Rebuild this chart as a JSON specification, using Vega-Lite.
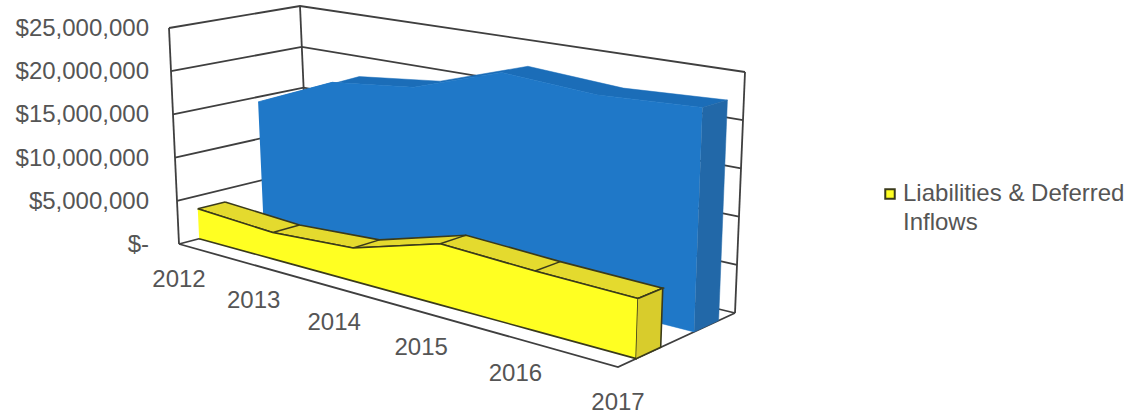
{"$schema":"https://vega.github.io/schema/vega-lite/v6.json","width":1135,"height":415,"padding":0,"autosize":{"type":"fit","contains":"padding"},"background":"white","config":{"view":{"stroke":null},"text":{"font":"Liberation Sans"}},
"datasets":{
"series":[
{"year":2012,"series":"Assets","value":14400000},{"year":2013,"series":"Assets","value":18400000},{"year":2014,"series":"Assets","value":19500000},{"year":2015,"series":"Assets","value":22800000},{"year":2016,"series":"Assets","value":22100000},{"year":2017,"series":"Assets","value":22600000},
{"year":2012,"series":"Liabilities & Deferred Inflows","value":3500000},{"year":2013,"series":"Liabilities & Deferred Inflows","value":3000000},{"year":2014,"series":"Liabilities & Deferred Inflows","value":3600000},{"year":2015,"series":"Liabilities & Deferred Inflows","value":6400000},{"year":2016,"series":"Liabilities & Deferred Inflows","value":6000000},{"year":2017,"series":"Liabilities & Deferred Inflows","value":5800000}],
"ticks":[{"value":0,"label":"$-"},{"value":5000000,"label":"$5,000,000"},{"value":10000000,"label":"$10,000,000"},{"value":15000000,"label":"$15,000,000"},{"value":20000000,"label":"$20,000,000"},{"value":25000000,"label":"$25,000,000"}],
"years":[{"year":2012},{"year":2013},{"year":2014},{"year":2015},{"year":2016},{"year":2017}],
"edges":[
{"edge":"floor","step":0,"year":2012,"value":0,"depth":0},{"edge":"floor","step":1,"year":2017,"value":0,"depth":0},{"edge":"floor","step":2,"year":2017,"value":0,"depth":1},
{"edge":"left front","step":0,"year":2012,"value":0,"depth":0},{"edge":"left front","step":1,"year":2012,"value":25000000,"depth":0},
{"edge":"left back","step":0,"year":2012,"value":0,"depth":1},{"edge":"left back","step":1,"year":2012,"value":25000000,"depth":1},
{"edge":"right back","step":0,"year":2017,"value":0,"depth":1},{"edge":"right back","step":1,"year":2017,"value":25000000,"depth":1}]},
"encoding":{"x":{"field":"px","type":"quantitative","scale":{"domain":[0,1135]},"axis":null},"y":{"field":"py","type":"quantitative","scale":{"domain":[415,0]},"axis":null}},
"layer":[
{"data":{"name":"ticks"},"transform":[{"calculate":"[0,1,2]","as":"i"},{"flatten":["i"]},{"calculate":"datum.i==2?2017:2012","as":"year"},{"calculate":"datum.i==0?0:1","as":"d"},{"calculate":"datum.value/25000000","as":"w"},{"calculate":"(datum.year-2012)/5*0.82/(1-0.18*(datum.year-2012)/5)","as":"s"},{"calculate":"(179+439*datum.s+datum.d*(130-13*datum.s))*(1-datum.w)+(169+457*datum.s+datum.d*(131-12*datum.s))*datum.w","as":"px"},{"calculate":"(244+123*datum.s+datum.d*(-34-20*datum.s))*(1-datum.w)+(28+77*datum.s+datum.d*(-22-11*datum.s))*datum.w","as":"py"}],
"mark":{"type":"line","stroke":"#3f3f3f","strokeWidth":1.8},"encoding":{"detail":{"field":"value"},"order":{"field":"i"}}},
{"data":{"name":"edges"},"transform":[{"calculate":"datum.depth","as":"d"},{"calculate":"datum.value/25000000","as":"w"},{"calculate":"(datum.year-2012)/5*0.82/(1-0.18*(datum.year-2012)/5)","as":"s"},{"calculate":"(179+439*datum.s+datum.d*(130-13*datum.s))*(1-datum.w)+(169+457*datum.s+datum.d*(131-12*datum.s))*datum.w","as":"px"},{"calculate":"(244+123*datum.s+datum.d*(-34-20*datum.s))*(1-datum.w)+(28+77*datum.s+datum.d*(-22-11*datum.s))*datum.w","as":"py"}],
"mark":{"type":"line","stroke":"#3f3f3f","strokeWidth":1.8},"encoding":{"detail":{"field":"edge"},"order":{"field":"step"}}},
{"data":{"name":"series"},"transform":[{"filter":"datum.series=='Assets'"},{"calculate":"[0,1]","as":"i"},{"flatten":["i"]},{"calculate":"datum.i==0?0.65:0.86","as":"d"},{"calculate":"datum.i==0?datum.year:5000-datum.year","as":"ord"},{"calculate":"datum.value/25000000","as":"w"},{"calculate":"(datum.year-2012)/5*0.82/(1-0.18*(datum.year-2012)/5)","as":"s"},{"calculate":"(179+439*datum.s+datum.d*(130-13*datum.s))*(1-datum.w)+(169+457*datum.s+datum.d*(131-12*datum.s))*datum.w","as":"px"},{"calculate":"(244+123*datum.s+datum.d*(-34-20*datum.s))*(1-datum.w)+(28+77*datum.s+datum.d*(-22-11*datum.s))*datum.w","as":"py"}],
"mark":{"type":"line","fill":"#1b6db8","stroke":"#1b6db8","strokeWidth":0.5},"encoding":{"order":{"field":"ord"}}},
{"data":{"name":"series"},"transform":[{"filter":"datum.series=='Assets'"},{"calculate":"[0,1]","as":"i"},{"flatten":["i"]},{"calculate":"0.65","as":"d"},{"calculate":"datum.i==0?datum.year:5000-datum.year","as":"ord"},{"calculate":"datum.i==0?datum.value/25000000:0","as":"w"},{"calculate":"(datum.year-2012)/5*0.82/(1-0.18*(datum.year-2012)/5)","as":"s"},{"calculate":"(179+439*datum.s+datum.d*(130-13*datum.s))*(1-datum.w)+(169+457*datum.s+datum.d*(131-12*datum.s))*datum.w","as":"px"},{"calculate":"(244+123*datum.s+datum.d*(-34-20*datum.s))*(1-datum.w)+(28+77*datum.s+datum.d*(-22-11*datum.s))*datum.w","as":"py"}],
"mark":{"type":"line","fill":"#1f78c8","stroke":"#1f78c8","strokeWidth":0.5},"encoding":{"order":{"field":"ord"}}},
{"data":{"name":"series"},"transform":[{"filter":"datum.series=='Assets' && datum.year==2017"},{"calculate":"[0,1,2,3]","as":"i"},{"flatten":["i"]},{"calculate":"datum.i==0||datum.i==3?0.65:0.86","as":"d"},{"calculate":"datum.i<2?datum.value/25000000:0","as":"w"},{"calculate":"(datum.year-2012)/5*0.82/(1-0.18*(datum.year-2012)/5)","as":"s"},{"calculate":"(179+439*datum.s+datum.d*(130-13*datum.s))*(1-datum.w)+(169+457*datum.s+datum.d*(131-12*datum.s))*datum.w","as":"px"},{"calculate":"(244+123*datum.s+datum.d*(-34-20*datum.s))*(1-datum.w)+(28+77*datum.s+datum.d*(-22-11*datum.s))*datum.w","as":"py"}],
"mark":{"type":"line","fill":"#2268a8","stroke":"#2268a8","strokeWidth":0.5},"encoding":{"order":{"field":"i"}}},
{"data":{"name":"series"},"transform":[{"filter":"datum.series!='Assets'"},{"calculate":"[0,1]","as":"i"},{"flatten":["i"]},{"calculate":"datum.i==0?0.155:0.365","as":"d"},{"calculate":"datum.i==0?datum.year:5000-datum.year","as":"ord"},{"calculate":"datum.value/25000000","as":"w"},{"calculate":"(datum.year-2012)/5*0.82/(1-0.18*(datum.year-2012)/5)","as":"s"},{"calculate":"(179+439*datum.s+datum.d*(130-13*datum.s))*(1-datum.w)+(169+457*datum.s+datum.d*(131-12*datum.s))*datum.w","as":"px"},{"calculate":"(244+123*datum.s+datum.d*(-34-20*datum.s))*(1-datum.w)+(28+77*datum.s+datum.d*(-22-11*datum.s))*datum.w","as":"py"}],
"mark":{"type":"line","fill":"#e4da2e","stroke":"#3a3a1a","strokeWidth":1.6},"encoding":{"order":{"field":"ord"}}},
{"data":{"name":"series"},"transform":[{"filter":"datum.series!='Assets'"},{"calculate":"[0,1]","as":"i"},{"flatten":["i"]},{"calculate":"datum.i==0?0.155:0.365","as":"d"},{"calculate":"datum.value/25000000","as":"w"},{"calculate":"(datum.year-2012)/5*0.82/(1-0.18*(datum.year-2012)/5)","as":"s"},{"calculate":"(179+439*datum.s+datum.d*(130-13*datum.s))*(1-datum.w)+(169+457*datum.s+datum.d*(131-12*datum.s))*datum.w","as":"px"},{"calculate":"(244+123*datum.s+datum.d*(-34-20*datum.s))*(1-datum.w)+(28+77*datum.s+datum.d*(-22-11*datum.s))*datum.w","as":"py"}],
"mark":{"type":"line","stroke":"#3a3a1a","strokeWidth":1.4},"encoding":{"detail":{"field":"year"},"order":{"field":"i"}}},
{"data":{"name":"series"},"transform":[{"filter":"datum.series!='Assets'"},{"calculate":"[0,1]","as":"i"},{"flatten":["i"]},{"calculate":"0.155","as":"d"},{"calculate":"datum.i==0?datum.year:5000-datum.year","as":"ord"},{"calculate":"datum.i==0?datum.value/25000000:0","as":"w"},{"calculate":"(datum.year-2012)/5*0.82/(1-0.18*(datum.year-2012)/5)","as":"s"},{"calculate":"(179+439*datum.s+datum.d*(130-13*datum.s))*(1-datum.w)+(169+457*datum.s+datum.d*(131-12*datum.s))*datum.w","as":"px"},{"calculate":"(244+123*datum.s+datum.d*(-34-20*datum.s))*(1-datum.w)+(28+77*datum.s+datum.d*(-22-11*datum.s))*datum.w","as":"py"}],
"mark":{"type":"line","stroke":"#3a3a1a","strokeWidth":1.6},"encoding":{"order":{"field":"ord"},"fill":{"field":"series","type":"nominal","scale":{"domain":["Liabilities & Deferred Inflows"],"range":["#ffff22"]},"legend":{"orient":"none","legendX":878,"legendY":182,"title":null,"symbolType":"square","symbolSize":90,"symbolStrokeColor":"#3a3a1a","symbolStrokeWidth":2,"symbolFillColor":"#ffff22","labelFont":"Liberation Sans","labelFontSize":24,"labelColor":"#555555","labelLimit":300,"labelOffset":1,"labelExpr":"['Liabilities & Deferred','Inflows']","encode":{"labels":{"update":{"lineHeight":{"value":29}}}}}}}},
{"data":{"name":"series"},"transform":[{"filter":"datum.series!='Assets' && datum.year==2017"},{"calculate":"[0,1,2,3]","as":"i"},{"flatten":["i"]},{"calculate":"datum.i==0||datum.i==3?0.155:0.365","as":"d"},{"calculate":"datum.i<2?datum.value/25000000:0","as":"w"},{"calculate":"(datum.year-2012)/5*0.82/(1-0.18*(datum.year-2012)/5)","as":"s"},{"calculate":"(179+439*datum.s+datum.d*(130-13*datum.s))*(1-datum.w)+(169+457*datum.s+datum.d*(131-12*datum.s))*datum.w","as":"px"},{"calculate":"(244+123*datum.s+datum.d*(-34-20*datum.s))*(1-datum.w)+(28+77*datum.s+datum.d*(-22-11*datum.s))*datum.w","as":"py"}],
"mark":{"type":"line","fill":"#d8cc2c","stroke":"#3a3a1a","strokeWidth":1.6},"encoding":{"order":{"field":"i"}}},
{"data":{"name":"ticks"},"transform":[{"calculate":"datum.value/25000000","as":"w"},{"calculate":"179","as":"px"},{"calculate":"244*(1-datum.w)+28*datum.w","as":"py"}],
"mark":{"type":"text","align":"right","baseline":"middle","dx":-30,"dy":1,"fontSize":24,"color":"#555555"},"encoding":{"text":{"field":"label"}}},
{"data":{"name":"years"},"transform":[{"calculate":"(datum.year-2012)/5*0.82/(1-0.18*(datum.year-2012)/5)","as":"s"},{"calculate":"179+439*datum.s","as":"px"},{"calculate":"244+123*datum.s","as":"py"}],
"mark":{"type":"text","align":"center","baseline":"middle","dy":36,"fontSize":24,"color":"#555555"},"encoding":{"text":{"field":"year","type":"nominal"}}}
]}
